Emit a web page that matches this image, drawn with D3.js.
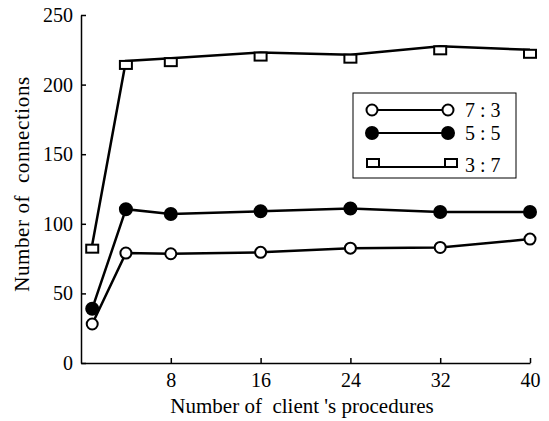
<!DOCTYPE html>
<html>
<head>
	<meta charset="utf-8">
	<title>Connections</title>
	<script type="text/javascript" src="https://cdn.jsdelivr.net/npm/d3@7"></script>
	<style>
		body {
			margin: 0;
			background: #fff;
		}
		svg text {
			font-family: "Liberation Serif", "DejaVu Serif", serif !important;
		}
	</style>
</head>

<body>

	<div id="chart"></div>

	<script>

		// data

		const procedures = [1, 4, 8, 16, 24, 32, 40];
		const ratio73 = [28, 79, 78.5, 79.5, 82.5, 83, 89];
		const ratio55 = [39, 110.5, 107, 109, 111, 108.5, 108.5];
		const ratio37 = [85, 217, 219, 223, 221.5, 227.5, 225];
		const seriesNames = ["7 : 3", "5 : 5", "3 : 7"];
		const xTicks = [8, 16, 24, 32, 40];
		const yTicks = [0, 50, 100, 150, 200, 250];

		// layout

		const width = 549;
		const height = 421;
		const fontSize = 20;
		const serif = "Liberation Serif, DejaVu Serif, serif";

		const x = d3.scaleLinear().domain([0, 40]).range([81, 530]);
		const y = d3.scaleLinear().domain([0, 250]).range([363, 15]);

		const svg = d3.select("#chart")
			.append("svg")
			.attr("width", width)
			.attr("height", height)
			.attr("viewBox", [0, 0, width, height])
			.attr("font-family", serif);

		// axes
		const yAxis = svg.append("g")
			.attr("transform", `translate(${x(0)},0)`)
			.call(d3.axisLeft(y).tickValues(yTicks).tickSizeInner(-5).tickSizeOuter(0).tickPadding(8));

		const xAxis = svg.append("g")
			.attr("transform", `translate(0,${y(0)})`)
			.call(d3.axisBottom(x).tickValues(xTicks).tickSizeInner(-5).tickSizeOuter(0).tickPadding(10));

		[xAxis, yAxis].forEach(g => {
			g.attr("font-family", serif).attr("font-size", fontSize);
			g.select(".domain").attr("stroke", "#000").attr("stroke-width", 1.5);
			g.selectAll(".tick line").attr("stroke", "#000").attr("stroke-width", 1.5);
			g.selectAll(".tick text").attr("fill", "#000");
		});

		// axis titles
		svg.append("text")
			.attr("x", 302)
			.attr("y", 413)
			.attr("text-anchor", "middle")
			.attr("font-size", 21)
			.attr("xml:space", "preserve")
			.text("Number of  client 's procedures");

		svg.append("text")
			.attr("transform", `translate(29,184) rotate(-90)`)
			.attr("text-anchor", "middle")
			.attr("font-size", 21)
			.attr("letter-spacing", 0.6)
			.attr("xml:space", "preserve")
			.text("Number of  connections");

		// series
		const series = [
			{ name: seriesNames[0], values: ratio73, marker: "open" },
			{ name: seriesNames[1], values: ratio55, marker: "filled" },
			{ name: seriesNames[2], values: ratio37, marker: "square" },
		];

		const line = d3.line()
			.x((d, i) => x(procedures[i]))
			.y(d => y(d));

		function drawMarker(g, kind, cx, cy) {
			if (kind === "square") {
				g.append("rect")
					.attr("x", cx - 6)
					.attr("y", cy)
					.attr("width", 12)
					.attr("height", 8)
					.attr("fill", "#fff")
					.attr("stroke", "#000")
					.attr("stroke-width", 2);
			} else {
				g.append("circle")
					.attr("cx", cx)
					.attr("cy", cy)
					.attr("r", kind === "filled" ? 6 : 5.5)
					.attr("fill", kind === "filled" ? "#000" : "#fff")
					.attr("stroke", "#000")
					.attr("stroke-width", 2);
			}
		}

		series.forEach(s => {
			svg.append("path")
				.datum(s.values)
				.attr("fill", "none")
				.attr("stroke", "#000")
				.attr("stroke-width", 2.5)
				.attr("d", line);
			const g = svg.append("g");
			s.values.forEach((v, i) => drawMarker(g, s.marker, x(procedures[i]), y(v)));
		});

		// legend
		const legend = svg.append("g").attr("transform", "translate(353,93)");
		legend.append("rect")
			.attr("width", 163)
			.attr("height", 85)
			.attr("fill", "#fff")
			.attr("stroke", "#000")
			.attr("stroke-width", 1);

		series.forEach((s, i) => {
			const isSquare = s.marker === "square";
			const ry = 17 + i * 23 + (isSquare ? 3 : 0);
			const g = legend.append("g");
			const lineY = isSquare ? ry + 8 : ry;
			g.append("line")
				.attr("x1", 19).attr("x2", 95)
				.attr("y1", lineY).attr("y2", lineY)
				.attr("stroke", "#000")
				.attr("stroke-width", 2);
			if (isSquare) {
				drawMarker(g, "square", 20, ry);
				drawMarker(g, "square", 98, ry);
			} else {
				drawMarker(g, s.marker, 19, ry);
				drawMarker(g, s.marker, 95, ry);
			}
			g.append("text")
				.attr("x", 112)
				.attr("y", isSquare ? ry + 13 : ry + 7)
				.attr("font-size", fontSize)
				.attr("xml:space", "preserve")
				.text(s.name);
		});

	</script>

</body>

</html>
